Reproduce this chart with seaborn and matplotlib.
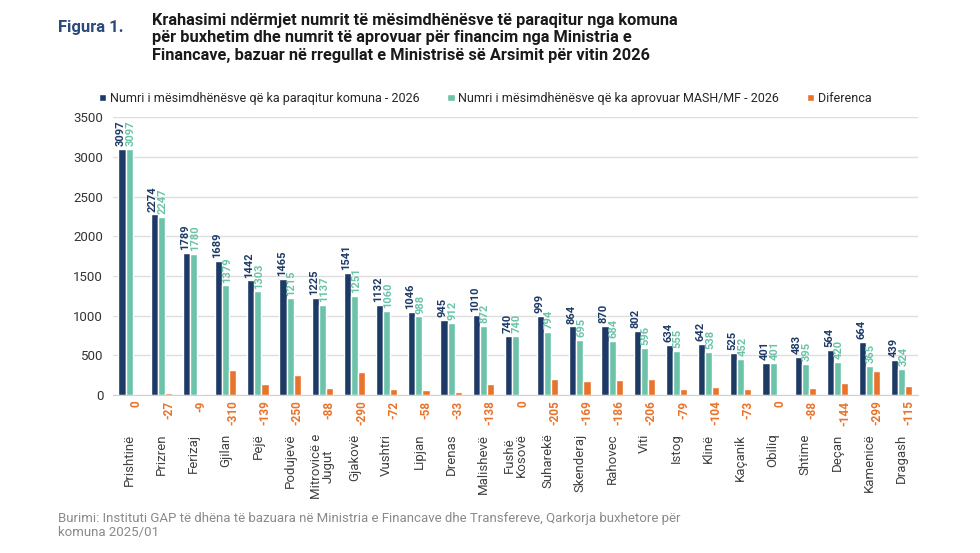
import numpy as np
import pandas as pd
import seaborn as sns
import matplotlib
matplotlib.use('Agg')
import matplotlib.pyplot as plt

# te dhenat
komunat = ['Prishtinë', 'Prizren', 'Ferizaj', 'Gjilan', 'Pejë', 'Podujevë', 'Mitrovicë e\nJugut',
           'Gjakovë', 'Vushtri', 'Lipjan', 'Drenas', 'Malishevë', 'Fushë\nKosovë', 'Suharekë',
           'Skenderaj', 'Rahovec', 'Viti', 'Istog', 'Klinë', 'Kaçanik', 'Obiliq', 'Shtime',
           'Deçan', 'Kamenicë', 'Dragash']
paraqitur = [3097, 2274, 1789, 1689, 1442, 1465, 1225, 1541, 1132, 1046, 945, 1010, 740,
             999, 864, 870, 802, 634, 642, 525, 401, 483, 564, 664, 439]
aprovuar = [3097, 2247, 1780, 1379, 1303, 1215, 1137, 1251, 1060, 988, 912, 872, 740,
            794, 695, 684, 596, 555, 538, 452, 401, 395, 420, 365, 324]
diferenca = [0, -27, -9, -310, -139, -250, -88, -290, -72, -58, -33, -138, 0, -205, -169,
             -186, -206, -79, -104, -73, 0, -88, -144, -299, -115]
y_ticks = [0, 500, 1000, 1500, 2000, 2500, 3000, 3500]

s1 = 'Numri i mësimdhënësve që ka paraqitur komuna - 2026'
s2 = 'Numri i mësimdhënësve që ka aprovuar MASH/MF - 2026'
s3 = 'Diferenca'
c_navy = '#1d3a66'
c_teal = '#6cc3aa'
c_orange = '#e8732c'

df = pd.DataFrame({'komuna': komunat * 3,
                   'seria': [s1] * 25 + [s2] * 25 + [s3] * 25,
                   'vlera': paraqitur + aprovuar + list(np.abs(diferenca))})

sns.set_style('white')
plt.rcParams['font.family'] = ['Roboto', 'DejaVu Sans']

fig = plt.figure(figsize=(9.8, 5.53), dpi=100)
ax = fig.add_axes([0.1153, 0.286, 0.8214, 0.502])
sns.barplot(data=df, x='komuna', y='vlera', hue='seria', palette=[c_navy, c_teal, c_orange],
            width=0.66, ax=ax, saturation=1)

ax.set_ylim(0, 3500)
ax.set_xlim(-0.5, len(komunat) - 0.5)
ax.set_yticks(y_ticks)
ax.set_xlabel('')
ax.set_ylabel('')
ax.yaxis.grid(True, color='#dedede', linewidth=1)
ax.set_axisbelow(True)
for sp in ['top', 'right', 'left']:
    ax.spines[sp].set_visible(False)
ax.spines['bottom'].set_color('#d0d0d0')
ax.tick_params(axis='y', labelsize=9.5, colors='#333333', length=0, pad=7)
ax.tick_params(axis='x', labelsize=9.5, colors='#404040', length=0, pad=28, rotation=90)
for lab in ax.get_xticklabels():
    lab.set_va('top')
    lab.set_linespacing(0.9)

bw = 0.66 / 3
x = np.arange(len(komunat))
for i in range(len(komunat)):
    ax.annotate(str(paraqitur[i]), (x[i] - bw, paraqitur[i]), xytext=(-0.9, 2), textcoords='offset points',
                rotation=90, ha='center', va='bottom', fontsize=8, fontweight='bold', color=c_navy)
    ax.annotate(str(aprovuar[i]), (x[i], aprovuar[i]), xytext=(1.0, 2), textcoords='offset points',
                rotation=90, ha='center', va='bottom', fontsize=8, fontweight='bold', color=c_teal)
    ax.annotate(str(diferenca[i]), (x[i] + bw, 0), xytext=(0, -4), textcoords='offset points',
                rotation=90, ha='center', va='top', fontsize=8.5, fontweight='bold', color=c_orange)

handles, labels = ax.get_legend_handles_labels()
ax.get_legend().remove()
fig.legend(handles, labels, loc='center', bbox_to_anchor=(0.495, 0.822), ncol=3, frameon=False,
           fontsize=9, handlelength=0.6, handleheight=0.6, handletextpad=0.3, columnspacing=2.2)

fig.text(0.059, 0.951, 'Figura 1.', fontsize=12, fontweight='bold', color='#2b4a7a', va='center')
fig.text(0.155, 0.977, 'Krahasimi ndërmjet numrit të mësimdhënësve të paraqitur nga komuna\n'
         'për buxhetim dhe numrit të aprovuar për financim nga Ministria e\n'
         'Financave, bazuar në rregullat e Ministrisë së Arsimit për vitin 2026',
         fontsize=11.8, fontweight='bold', color='#1a1a1a', va='top', linespacing=1.2)
fig.text(0.059, 0.05, 'Burimi: Instituti GAP të dhëna të bazuara në Ministria e Financave dhe Transfereve, '
         'Qarkorja buxhetore për\nkomuna 2025/01', fontsize=9.5, color='#8a8a8a', va='center',
         linespacing=1.1)

plt.savefig('out.png', dpi=100)
